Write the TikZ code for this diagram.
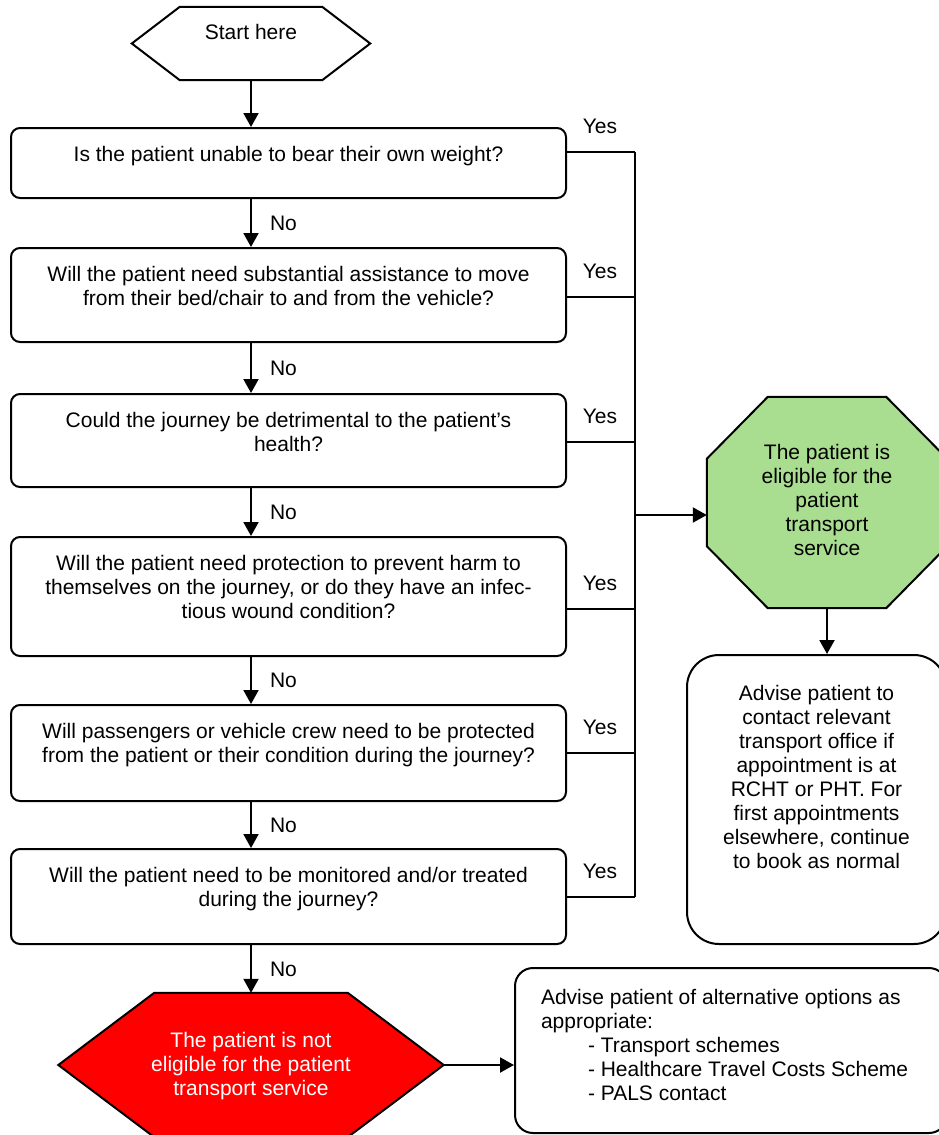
\documentclass[tikz,border=0pt]{standalone}
\usepackage{fontspec}
\setmainfont{Liberation Sans}
\usetikzlibrary{arrows.meta,calc,backgrounds}
\definecolor{okgreen}{RGB}{169,221,143}
\definecolor{nored}{RGB}{255,0,0}
\newcommand\tbox[4]{\parbox[c][#1pt][t]{#2pt}{\centering\vspace*{#3pt}\strut #4\par}}
\begin{document}
\begin{tikzpicture}[x=1pt,y=-1pt,
  every node/.style={font=\fontsize{21}{24}\selectfont, inner sep=0pt},
  qbox/.style={draw, line width=2pt, rounded corners=9pt},
  shapeline/.style={draw, line width=2pt, line join=miter},
  arr/.style={line width=2pt, -{Triangle[length=14pt,width=15pt]}},
  conn/.style={line width=2pt},
  yeslab/.style={anchor=base},
  nolab/.style={anchor=west, xshift=18pt}]
\useasboundingbox (0,0) rectangle (939,1135);

% start
\node (start) at (251,43.5) {\tbox{73}{238}{15.2}{Start here}};

% questions
\node[qbox] (q1) at (288.5,163) {\tbox{70}{555}{16.7}{Is the patient unable to bear their own weight?}};
\node[qbox] (q2) at (288.5,295) {\tbox{94}{555}{16.7}{Will the patient need substantial assistance to move\\from their bed/chair to and from the vehicle?}};
\node[qbox] (q3) at (288.5,440.5) {\tbox{93}{555}{16.7}{Could the journey be detrimental to the patient’s\\health?}};
\node[qbox] (q4) at (288.5,596.5) {\tbox{119}{555}{16.7}{Will the patient need protection to prevent harm to\\themselves on the journey, or do they have an infec-\\tious wound condition?}};
\node[qbox] (q5) at (288.5,753) {\tbox{96}{555}{16.7}{Will passengers or vehicle crew need to be protected\\from the patient or their condition during the journey?}};
\node[qbox] (q6) at (288.5,896.5) {\tbox{95}{555}{16.7}{Will the patient need to be monitored and/or treated\\during the journey?}};

% outcomes
\node (oct) at (827,502.5) {\tbox{211}{240}{45.2}{The patient is\\eligible for the\\patient\\transport\\service}};
\node[qbox, rounded corners=32pt] (adv) at (816.5,799.5) {\tbox{289}{259}{28.2}{Advise patient to\\contact relevant\\transport office if\\appointment is at\\RCHT or PHT. For\\first appointments\\elsewhere, continue\\to book as normal}};
\node[text=white] (notel) at (251,1065) {\tbox{144}{385}{37.2}{The patient is not\\eligible for the patient\\transport service}};
\node[qbox, rounded corners=18pt, inner xsep=26pt, inner ysep=0pt] (alt) at (731,1050.5) {\parbox[c][165pt][t]{380pt}{\raggedright\vspace*{20pt}\strut Advise patient of alternative options as\\appropriate:\\\hspace*{47pt}- Transport schemes\\\hspace*{47pt}- Healthcare Travel Costs Scheme\\\hspace*{47pt}- PALS contact\par}};

% shapes behind text
\begin{scope}[on background layer]
\draw[shapeline] (start.west) -- ($(start.north west)+(48,0)$) -- ($(start.north east)+(-48,0)$) -- (start.east) -- ($(start.south east)+(-48,0)$) -- ($(start.south west)+(48,0)$) -- cycle;
\draw[shapeline, fill=okgreen] ($(oct.north west)+(61,0)$) -- ($(oct.north east)+(-61,0)$) -- ($(oct.north east)+(0,62)$) -- ($(oct.south east)+(0,-62)$) -- ($(oct.south east)+(-61,0)$) -- ($(oct.south west)+(61,0)$) -- ($(oct.south west)+(0,-62)$) -- ($(oct.north west)+(0,62)$) -- cycle;
\draw[shapeline, fill=nored] (notel.west) -- ($(notel.north west)+(96,0)$) -- ($(notel.north east)+(-96,0)$) -- (notel.east) -- ($(notel.south east)+(-96,0)$) -- ($(notel.south west)+(96,0)$) -- cycle;
\end{scope}

% No arrows
\draw[arr] (start.south) -- (start.south |- q1.north);
\draw[arr] (q1.south -| start) -- node[nolab]{No} (q2.north -| start);
\draw[arr] (q2.south -| start) -- node[nolab]{No} (q3.north -| start);
\draw[arr] (q3.south -| start) -- node[nolab]{No} (q4.north -| start);
\draw[arr] (q4.south -| start) -- node[nolab]{No} (q5.north -| start);
\draw[arr] (q5.south -| start) -- node[nolab]{No} (q6.north -| start);
\draw[arr] (q6.south -| notel) -- node[nolab]{No} (notel.north);

% Yes connectors
\coordinate (y1) at (635,152);
\coordinate (y2) at (635,297);
\coordinate (y3) at (635,442);
\coordinate (y4) at (635,609);
\coordinate (y5) at (635,753);
\coordinate (y6) at (635,897);
\coordinate (j) at (635,515);
\draw[conn] (y1 -| q1.east) -- (y1);
\draw[conn] (y2 -| q2.east) -- (y2);
\draw[conn] (y3 -| q3.east) -- (y3);
\draw[conn] (y4 -| q4.east) -- (y4);
\draw[conn] (y5 -| q5.east) -- (y5);
\draw[conn] (y6 -| q6.east) -- (y6);
\draw[conn] (y1) -- (y6);
\draw[arr] (j) -- (j -| oct.west);
\node[yeslab] (ya) at (600,133.5) {Yes};
\node[yeslab] (yb) at (600,278.5) {Yes};
\node[yeslab] (yc) at (600,423.5) {Yes};
\node[yeslab] (yd) at (600,590.5) {Yes};
\node[yeslab] (ye) at (600,734.5) {Yes};
\node[yeslab] (yf) at (600,878.5) {Yes};

% outcome arrows
\draw[arr] (oct.south) -- (oct.south |- adv.north);
\draw[arr] (notel.east) -- (notel.east -| alt.west);
\end{tikzpicture}
\end{document}
